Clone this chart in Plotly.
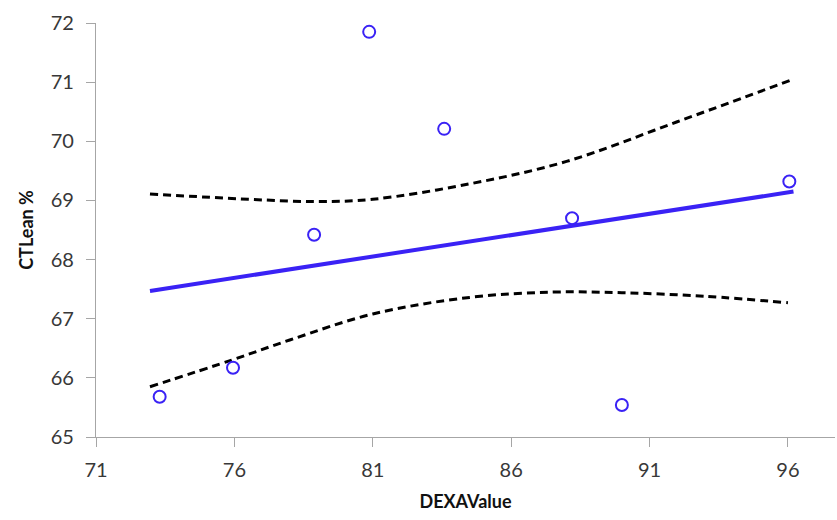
import plotly.graph_objects as go

# Observed measurements
dexa_value = [73.3, 75.95, 78.88, 80.87, 83.58, 88.2, 90.0, 96.05]
ct_lean = [65.68, 66.17, 68.42, 71.85, 70.21, 68.7, 65.54, 69.32]

# Linear trend (end points)
trend_x = [72.95, 96.2]
trend_y = [67.47, 69.15]

# Confidence band, upper curve
upper_x = [72.95, 76.5, 79.0, 81.0, 84.5, 88.0, 92.0, 96.2]
upper_y = [69.11, 69.02, 68.98, 69.02, 69.28, 69.66, 70.33, 71.05]

# Confidence band, lower curve
lower_x = [72.95, 75.9, 78.0, 81.0, 84.5, 87.5, 90.0, 93.0, 96.0]
lower_y = [65.85, 66.30, 66.64, 67.08, 67.36, 67.45, 67.44, 67.38, 67.27]

x_ticks = [71, 76, 81, 86, 91, 96]
y_ticks = [65, 66, 67, 68, 69, 70, 71, 72]

BLUE = "#3a22f5"
AXIS_GREY = "#a6a6a6"
FONT = "Lato"

fig = go.Figure()

for bx, by in ((upper_x, upper_y), (lower_x, lower_y)):
    fig.add_trace(go.Scatter(
        x=bx, y=by, mode="lines", line_shape="spline",
        line=dict(color="black", width=3, dash="8px,5px", smoothing=1.0),
        hoverinfo="skip",
    ))

fig.add_trace(go.Scatter(
    x=trend_x, y=trend_y, mode="lines",
    line=dict(color=BLUE, width=4),
))
fig.add_trace(go.Scatter(
    x=dexa_value, y=ct_lean, mode="markers",
    marker=dict(symbol="circle-open", size=12, color=BLUE, line=dict(width=2, color=BLUE)),
))

fig.update_layout(
    width=837, height=520,
    margin=dict(l=96, r=2, t=23, b=83),
    paper_bgcolor="white", plot_bgcolor="white",
    showlegend=False,
    font=dict(family=FONT, size=20, color="#383838"),
)

fig.update_xaxes(
    range=[71, 97.7], tickvals=x_ticks, ticktext=[str(v) for v in x_ticks],
    showgrid=False, zeroline=False,
    showline=True, linecolor=AXIS_GREY, linewidth=1.3,
    ticks="outside", ticklen=9, tickcolor=AXIS_GREY, tickwidth=1.3,
    ticklabelstandoff=6,
    title=dict(text="<b>DEXAValue</b>", font=dict(family=FONT, size=18, color="#111111"), standoff=15),
)
fig.update_yaxes(
    range=[65, 72], tickvals=y_ticks, ticktext=[str(v) for v in y_ticks],
    showgrid=False, zeroline=False,
    showline=True, linecolor=AXIS_GREY, linewidth=1.3,
    ticks="outside", ticklen=9, tickcolor=AXIS_GREY, tickwidth=1.3,
    ticklabelstandoff=8,
    title=dict(text="<b>CTLean %</b>", font=dict(family=FONT, size=18, color="#111111"), standoff=12),
)

fig.write_html("out.html")
